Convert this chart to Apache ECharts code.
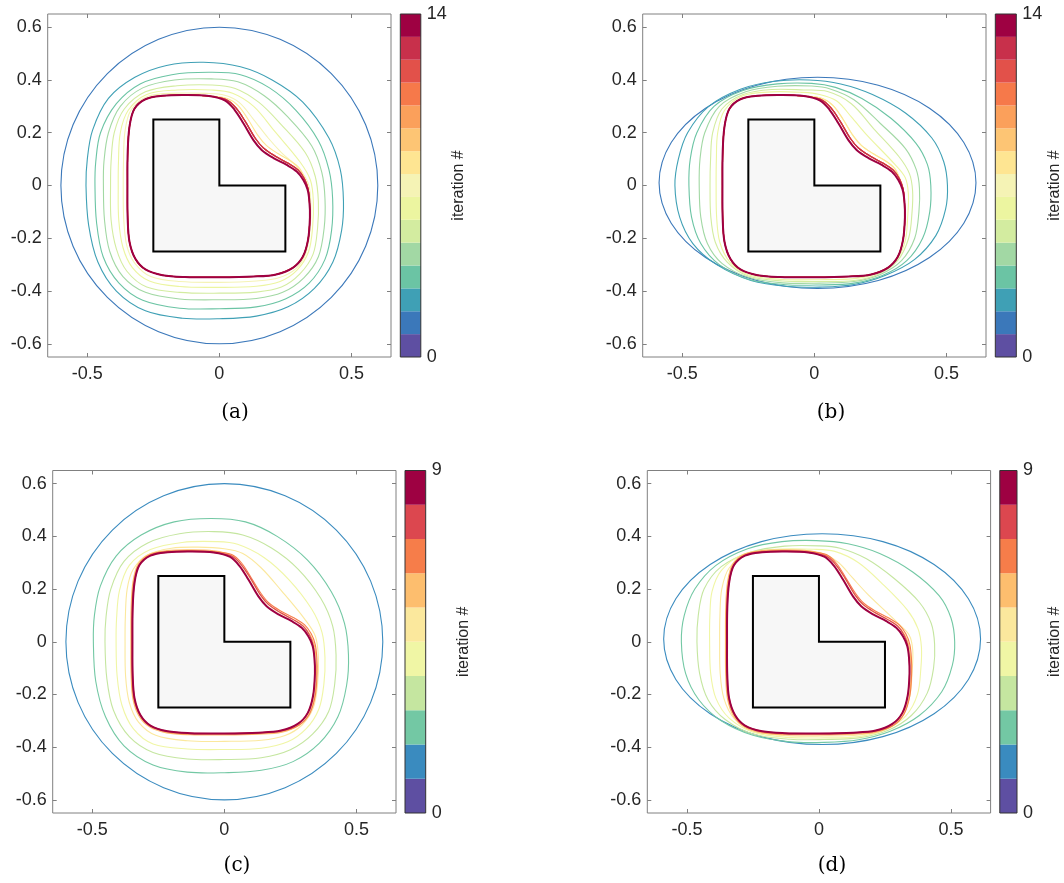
<!DOCTYPE html>
<html>
<head>
<meta charset="utf-8">
<script src="https://cdn.jsdelivr.net/npm/echarts@6/dist/echarts.min.js"></script>
<style>
  html, body { margin: 0; background: #fff; }
  #chart { width: 1064px; height: 883px; }
</style>
</head>
<body>
<div id="chart"></div>
<script>
// tick labels
const xTicks = [-0.5, 0, 0.5]
const yTicks = [-0.6, -0.4, -0.2, 0, 0.2, 0.4, 0.6]

// colorbars (iteration levels, bottom to top)
const levels15 = [0, 1, 2, 3, 4, 5, 6, 7, 8, 9, 10, 11, 12, 13, 14]
const colors15 = ['#5e4fa2', '#3b78ba', '#3fa0b5', '#6bc4a4', '#a2d8a4', '#d3eca0', '#ecf5a0', '#f5f3b5',
  '#fee592', '#fdc574', '#fba05b', '#f6794a', '#e2514a', '#c8304b', '#9e0142']
const levels10 = [0, 1, 2, 3, 4, 5, 6, 7, 8, 9]
const colors10 = ['#5e4fa2', '#3a8bbf', '#73c8a4', '#c5e6a0', '#f0f6a5', '#fbe89d', '#fdbe6e', '#f67d4a',
  '#dc474f', '#9e0142']

// obstacle
const lShape = [[-0.25, 0.25], [0, 0.25], [0, 0], [0.25, 0], [0.25, -0.25], [-0.25, -0.25]]

// initial curves
const circle0 = [[0.6, 0], [0.554, 0.23], [0.424, 0.424], [0.23, 0.554], [0, 0.6], [-0.23, 0.554], [-0.424, 0.424],
  [-0.554, 0.23], [-0.6, 0], [-0.554, -0.23], [-0.424, -0.424], [-0.23, -0.554], [0, -0.6], [0.23, -0.554],
  [0.424, -0.424], [0.554, -0.23]]
const ellipse0 = [[0.612, 0.01], [0.566, 0.163], [0.436, 0.293], [0.242, 0.38], [0.012, 0.41], [-0.218, 0.38],
  [-0.412, 0.293], [-0.542, 0.163], [-0.588, 0.01], [-0.542, -0.143], [-0.412, -0.273], [-0.218, -0.36],
  [0.012, -0.39], [0.242, -0.36], [0.436, -0.273], [0.566, -0.143]]

// final curve (and near-final iterates)
const finalCurve = [[-0.348, 0], [-0.347, -0.13], [-0.34, -0.215], [-0.318, -0.278], [-0.28, -0.318], [-0.215, -0.34],
  [-0.13, -0.347], [0, -0.348], [0.13, -0.345], [0.215, -0.337], [0.278, -0.312], [0.316, -0.27], [0.336, -0.205],
  [0.343, -0.12], [0.341, -0.06], [0.334, -0.015], [0.318, 0.021], [0.293, 0.053], [0.255, 0.078], [0.205, 0.104],
  [0.16, 0.135], [0.129, 0.172], [0.091, 0.236], [0.057, 0.288], [0.022, 0.322], [-0.04, 0.339], [-0.13, 0.343],
  [-0.215, 0.34], [-0.28, 0.327], [-0.322, 0.29], [-0.34, 0.225], [-0.347, 0.13]]
const near1 = [[-0.348, 0], [-0.347, -0.13], [-0.34, -0.215], [-0.318, -0.278], [-0.28, -0.318], [-0.215, -0.34],
  [-0.13, -0.347], [0, -0.348], [0.13, -0.345], [0.215, -0.337], [0.278, -0.312], [0.316, -0.27], [0.336, -0.205],
  [0.343, -0.12], [0.341, -0.06], [0.336, -0.012], [0.322, 0.03], [0.303, 0.066], [0.27, 0.093], [0.222, 0.121],
  [0.178, 0.152], [0.146, 0.19], [0.108, 0.252], [0.072, 0.302], [0.03, 0.33], [-0.04, 0.339], [-0.13, 0.343],
  [-0.215, 0.34], [-0.28, 0.327], [-0.322, 0.29], [-0.34, 0.225], [-0.347, 0.13]]
const near2 = [[-0.348, 0], [-0.347, -0.13], [-0.34, -0.215], [-0.318, -0.278], [-0.28, -0.318], [-0.215, -0.34],
  [-0.13, -0.347], [0, -0.348], [0.13, -0.345], [0.215, -0.337], [0.278, -0.312], [0.316, -0.27], [0.336, -0.205],
  [0.343, -0.12], [0.341, -0.06], [0.336, -0.012], [0.322, 0.026], [0.298, 0.059], [0.261, 0.084], [0.212, 0.111],
  [0.167, 0.142], [0.136, 0.179], [0.098, 0.243], [0.063, 0.294], [0.025, 0.326], [-0.04, 0.339], [-0.13, 0.343],
  [-0.215, 0.34], [-0.28, 0.327], [-0.322, 0.29], [-0.34, 0.225], [-0.347, 0.13]]
const orange1 = [[-0.354, 0], [-0.353, -0.13], [-0.346, -0.219], [-0.323, -0.283], [-0.284, -0.323], [-0.218, -0.346],
  [-0.13, -0.353], [0, -0.354], [0.13, -0.351], [0.218, -0.343], [0.283, -0.317], [0.321, -0.274], [0.342, -0.207],
  [0.349, -0.12], [0.347, -0.06], [0.34, -0.012], [0.324, 0.027], [0.299, 0.06], [0.26, 0.085], [0.21, 0.111],
  [0.166, 0.142], [0.135, 0.179], [0.097, 0.242], [0.062, 0.294], [0.026, 0.328], [-0.04, 0.345], [-0.13, 0.349],
  [-0.218, 0.346], [-0.284, 0.332], [-0.327, 0.294], [-0.346, 0.228], [-0.353, 0.13]]
const orange2 = [[-0.351, 0], [-0.35, -0.13], [-0.343, -0.217], [-0.32, -0.28], [-0.282, -0.32], [-0.216, -0.342],
  [-0.13, -0.35], [0, -0.351], [0.13, -0.348], [0.217, -0.34], [0.283, -0.316], [0.323, -0.273], [0.344, -0.206],
  [0.351, -0.12], [0.35, -0.06], [0.344, -0.01], [0.329, 0.03], [0.304, 0.064], [0.265, 0.09], [0.215, 0.116],
  [0.17, 0.146], [0.139, 0.183], [0.1, 0.246], [0.066, 0.298], [0.028, 0.331], [-0.04, 0.342], [-0.13, 0.346],
  [-0.215, 0.343], [-0.281, 0.33], [-0.324, 0.292], [-0.343, 0.226], [-0.35, 0.13]]

// panel (a) iterates
const a2 = [[-0.505, 0], [-0.495, -0.15], [-0.46, -0.29], [-0.39, -0.4], [-0.28, -0.475], [-0.14, -0.503], [0, -0.505],
  [0.14, -0.495], [0.26, -0.46], [0.36, -0.39], [0.43, -0.29], [0.463, -0.17], [0.47, -0.06], [0.458, 0.06],
  [0.415, 0.18], [0.316, 0.316], [0.2, 0.4], [0.08, 0.45], [-0.06, 0.467], [-0.2, 0.455], [-0.32, 0.41],
  [-0.42, 0.33], [-0.48, 0.21], [-0.5, 0.1]]
const a3 = [[-0.471, 0], [-0.465, -0.14], [-0.44, -0.27], [-0.38, -0.37], [-0.29, -0.435], [-0.15, -0.465], [0, -0.467],
  [0.14, -0.46], [0.25, -0.43], [0.34, -0.37], [0.4, -0.28], [0.425, -0.17], [0.429, -0.05], [0.415, 0.06],
  [0.375, 0.17], [0.29, 0.285], [0.19, 0.37], [0.08, 0.42], [-0.04, 0.429], [-0.18, 0.42], [-0.3, 0.385],
  [-0.39, 0.31], [-0.45, 0.2], [-0.468, 0.09]]
const a4 = [[-0.439, 0], [-0.435, -0.13], [-0.415, -0.25], [-0.365, -0.345], [-0.28, -0.405], [-0.15, -0.43], [0, -0.433],
  [0.14, -0.428], [0.24, -0.405], [0.32, -0.35], [0.375, -0.27], [0.397, -0.16], [0.4, -0.05], [0.388, 0.05],
  [0.35, 0.15], [0.262, 0.257], [0.17, 0.34], [0.07, 0.393], [-0.03, 0.404], [-0.17, 0.4], [-0.29, 0.37],
  [-0.375, 0.3], [-0.42, 0.2], [-0.437, 0.09]]
const a5 = [[-0.412, 0], [-0.41, -0.13], [-0.39, -0.24], [-0.35, -0.325], [-0.275, -0.385], [-0.15, -0.405], [0, -0.408],
  [0.14, -0.404], [0.235, -0.385], [0.305, -0.335], [0.355, -0.26], [0.372, -0.16], [0.375, -0.06], [0.363, 0.035],
  [0.325, 0.125], [0.235, 0.23], [0.15, 0.315], [0.06, 0.368], [-0.03, 0.381], [-0.16, 0.378], [-0.28, 0.355],
  [-0.36, 0.29], [-0.398, 0.2], [-0.41, 0.09]]
const a6 = [[-0.383, 0], [-0.381, -0.13], [-0.365, -0.235], [-0.33, -0.31], [-0.265, -0.362], [-0.15, -0.383], [0, -0.386],
  [0.14, -0.382], [0.23, -0.364], [0.295, -0.32], [0.338, -0.25], [0.353, -0.16], [0.356, -0.06], [0.345, 0.02],
  [0.305, 0.09], [0.21, 0.205], [0.13, 0.3], [0.05, 0.35], [-0.03, 0.362], [-0.16, 0.362], [-0.275, 0.345],
  [-0.345, 0.285], [-0.375, 0.2], [-0.382, 0.09]]
const a7 = [[-0.364, 0], [-0.362, -0.13], [-0.35, -0.23], [-0.32, -0.295], [-0.26, -0.345], [-0.15, -0.364], [0, -0.367],
  [0.14, -0.362], [0.225, -0.35], [0.29, -0.315], [0.328, -0.255], [0.344, -0.16], [0.346, -0.06], [0.336, 0.01],
  [0.3, 0.065], [0.235, 0.125], [0.185, 0.18], [0.13, 0.25], [0.075, 0.315], [0.02, 0.342], [-0.05, 0.349],
  [-0.16, 0.35], [-0.27, 0.338], [-0.335, 0.285], [-0.358, 0.2], [-0.363, 0.09]]

// panel (b) iterates
const b2 = [[-0.528, 0], [-0.51, -0.12], [-0.46, -0.22], [-0.37, -0.3], [-0.24, -0.36], [-0.1, -0.383], [0.02, -0.385],
  [0.15, -0.375], [0.27, -0.34], [0.38, -0.28], [0.46, -0.19], [0.497, -0.09], [0.504, 0], [0.49, 0.09],
  [0.445, 0.18], [0.345, 0.275], [0.22, 0.345], [0.1, 0.385], [-0.02, 0.4], [-0.15, 0.395], [-0.28, 0.365],
  [-0.4, 0.3], [-0.48, 0.2], [-0.515, 0.1]]
const b3 = [[-0.475, 0], [-0.465, -0.12], [-0.43, -0.22], [-0.36, -0.3], [-0.25, -0.355], [-0.11, -0.376], [0.02, -0.377],
  [0.15, -0.37], [0.26, -0.34], [0.35, -0.285], [0.41, -0.2], [0.437, -0.1], [0.441, 0], [0.428, 0.08],
  [0.385, 0.16], [0.29, 0.255], [0.18, 0.33], [0.08, 0.372], [-0.01, 0.387], [-0.14, 0.385], [-0.27, 0.36],
  [-0.38, 0.3], [-0.445, 0.2], [-0.47, 0.1]]
const b4 = [[-0.436, 0], [-0.43, -0.12], [-0.405, -0.22], [-0.35, -0.295], [-0.25, -0.348], [-0.12, -0.369], [0.02, -0.37],
  [0.15, -0.364], [0.25, -0.337], [0.33, -0.285], [0.38, -0.2], [0.396, -0.1], [0.398, -0.01], [0.386, 0.06],
  [0.345, 0.14], [0.25, 0.235], [0.15, 0.325], [0.06, 0.366], [-0.01, 0.377], [-0.14, 0.376], [-0.26, 0.355],
  [-0.36, 0.3], [-0.415, 0.2], [-0.433, 0.1]]
const b5 = [[-0.395, 0], [-0.392, -0.12], [-0.375, -0.215], [-0.33, -0.29], [-0.25, -0.343], [-0.12, -0.362], [0.02, -0.364],
  [0.15, -0.36], [0.245, -0.335], [0.315, -0.285], [0.357, -0.2], [0.37, -0.1], [0.372, -0.02], [0.36, 0.045],
  [0.32, 0.11], [0.225, 0.215], [0.14, 0.31], [0.05, 0.356], [-0.04, 0.362], [-0.16, 0.364], [-0.27, 0.345],
  [-0.35, 0.29], [-0.385, 0.2], [-0.393, 0.1]]
const b6 = [[-0.372, 0], [-0.37, -0.12], [-0.358, -0.215], [-0.32, -0.29], [-0.25, -0.338], [-0.12, -0.356], [0.02, -0.357],
  [0.15, -0.353], [0.24, -0.333], [0.305, -0.29], [0.343, -0.215], [0.354, -0.11], [0.356, -0.03], [0.344, 0.03],
  [0.305, 0.08], [0.2, 0.19], [0.14, 0.26], [0.085, 0.32], [0.02, 0.345], [-0.05, 0.353], [-0.16, 0.355],
  [-0.27, 0.34], [-0.34, 0.285], [-0.366, 0.2], [-0.371, 0.1]]

// panel (c) iterates
const c2 = [[-0.496, 0], [-0.487, -0.15], [-0.45, -0.285], [-0.38, -0.395], [-0.27, -0.468], [-0.14, -0.495], [0, -0.497],
  [0.14, -0.488], [0.26, -0.455], [0.36, -0.385], [0.43, -0.285], [0.463, -0.165], [0.47, -0.05], [0.455, 0.07],
  [0.405, 0.19], [0.315, 0.31], [0.2, 0.4], [0.08, 0.455], [-0.05, 0.468], [-0.19, 0.455], [-0.315, 0.405],
  [-0.41, 0.325], [-0.47, 0.21], [-0.492, 0.1]]
const c3 = [[-0.452, 0], [-0.445, -0.14], [-0.42, -0.26], [-0.36, -0.36], [-0.27, -0.42], [-0.14, -0.445], [0, -0.447],
  [0.14, -0.44], [0.25, -0.41], [0.335, -0.35], [0.395, -0.265], [0.418, -0.16], [0.423, -0.05], [0.41, 0.06],
  [0.365, 0.165], [0.28, 0.275], [0.18, 0.355], [0.07, 0.405], [-0.04, 0.418], [-0.17, 0.41], [-0.29, 0.375],
  [-0.38, 0.305], [-0.43, 0.2], [-0.448, 0.095]]
const c4 = [[-0.41, 0], [-0.406, -0.13], [-0.388, -0.24], [-0.345, -0.33], [-0.27, -0.388], [-0.14, -0.407], [0, -0.409],
  [0.14, -0.404], [0.24, -0.38], [0.31, -0.33], [0.358, -0.255], [0.377, -0.16], [0.381, -0.06], [0.37, 0.035],
  [0.33, 0.125], [0.245, 0.235], [0.15, 0.32], [0.05, 0.37], [-0.03, 0.38], [-0.16, 0.377], [-0.28, 0.35],
  [-0.36, 0.29], [-0.397, 0.195], [-0.408, 0.09]]
const c5 = [[-0.376, 0], [-0.374, -0.13], [-0.36, -0.23], [-0.325, -0.305], [-0.26, -0.355], [-0.14, -0.376], [0, -0.378],
  [0.14, -0.374], [0.23, -0.356], [0.295, -0.315], [0.337, -0.25], [0.353, -0.16], [0.356, -0.06], [0.345, 0.02],
  [0.305, 0.085], [0.215, 0.195], [0.14, 0.28], [0.07, 0.335], [0, 0.353], [-0.1, 0.359], [-0.2, 0.355],
  [-0.29, 0.33], [-0.345, 0.275], [-0.368, 0.2], [-0.375, 0.09]]

// panel (d) iterates
const d2 = [[-0.521, 0], [-0.505, -0.12], [-0.455, -0.22], [-0.37, -0.3], [-0.25, -0.355], [-0.11, -0.38], [0.02, -0.382],
  [0.15, -0.372], [0.27, -0.34], [0.38, -0.28], [0.465, -0.19], [0.505, -0.09], [0.514, 0], [0.5, 0.09],
  [0.455, 0.175], [0.355, 0.265], [0.23, 0.335], [0.11, 0.372], [-0.01, 0.384], [-0.14, 0.38], [-0.27, 0.353],
  [-0.39, 0.29], [-0.47, 0.2], [-0.51, 0.1]]
const d3 = [[-0.462, 0], [-0.452, -0.12], [-0.42, -0.22], [-0.355, -0.295], [-0.25, -0.35], [-0.11, -0.37], [0.02, -0.371],
  [0.15, -0.365], [0.26, -0.337], [0.35, -0.28], [0.41, -0.195], [0.434, -0.1], [0.438, -0.01], [0.425, 0.07],
  [0.38, 0.15], [0.285, 0.24], [0.18, 0.315], [0.08, 0.355], [0, 0.364], [-0.13, 0.363], [-0.26, 0.34],
  [-0.37, 0.285], [-0.435, 0.2], [-0.457, 0.1]]
const d4 = [[-0.414, 0], [-0.41, -0.12], [-0.39, -0.215], [-0.34, -0.29], [-0.25, -0.343], [-0.12, -0.363], [0.02, -0.365],
  [0.15, -0.36], [0.25, -0.335], [0.33, -0.28], [0.373, -0.2], [0.386, -0.1], [0.388, -0.02], [0.375, 0.05],
  [0.335, 0.12], [0.24, 0.22], [0.15, 0.3], [0.06, 0.343], [-0.02, 0.351], [-0.18, 0.35], [-0.29, 0.33],
  [-0.37, 0.27], [-0.405, 0.19], [-0.413, 0.1]]
const d5 = [[-0.376, 0], [-0.374, -0.12], [-0.36, -0.215], [-0.322, -0.29], [-0.25, -0.338], [-0.12, -0.357], [0.02, -0.358],
  [0.15, -0.354], [0.24, -0.334], [0.303, -0.29], [0.342, -0.215], [0.353, -0.11], [0.355, -0.03], [0.342, 0.025],
  [0.3, 0.07], [0.185, 0.18], [0.125, 0.245], [0.075, 0.3], [0.02, 0.333], [-0.05, 0.345], [-0.16, 0.346],
  [-0.27, 0.333], [-0.34, 0.28], [-0.368, 0.2], [-0.375, 0.1]]

// curves per panel, iteration 1..N
const panels = [
  { label: '(a)', levels: levels15, colors: colors15,
    curves: [circle0, a2, a3, a4, a5, a6, a7, near1, near2, near2, near2, near2, near2, finalCurve] },
  { label: '(b)', levels: levels15, colors: colors15,
    curves: [ellipse0, b2, b3, b4, b5, b6, near1, near1, near2, near2, near2, near2, near2, finalCurve] },
  { label: '(c)', levels: levels10, colors: colors10,
    curves: [circle0, c2, c3, c4, c5, orange1, orange2, near2, finalCurve] },
  { label: '(d)', levels: levels10, colors: colors10,
    curves: [ellipse0, d2, d3, d4, d5, orange1, orange2, near2, finalCurve] }
]

// pixel layout: plot [left, top, width, height], colorbar [left, width], caption [x, y]
const layout = [
  { plot: [47.7, 14, 343.3, 343], bar: [400.3, 20.5], caption: [235, 413] },
  { plot: [642.7, 14, 343.3, 343], bar: [995.3, 21], caption: [831, 413] },
  { plot: [52.7, 470.5, 343.3, 342.5], bar: [405, 20.7], caption: [237, 866] },
  { plot: [647.3, 470.5, 343.3, 342.5], bar: [999.8, 20.8], caption: [832, 866] }
]

const font = '"Liberation Sans", Arial, Helvetica, sans-serif'
const frameColor = '#808080'
const textColor = '#262626'

const fmt = v => (v === 0 ? '0' : v.toFixed(1))

const grid = []
const xAxis = []
const yAxis = []
const series = []
const graphic = []

const polySeries = (pts, xi, yi, style) => ({
  type: 'custom',
  coordinateSystem: 'cartesian2d',
  xAxisIndex: xi,
  yAxisIndex: yi,
  silent: true,
  data: pts,
  renderItem: (params, api) => {
    if (params.dataIndex !== 0) return
    return {
      type: 'polygon',
      shape: { points: pts.map(p => api.coord(p)), smooth: style.smooth || 0 },
      style: { fill: style.fill || 'none', stroke: style.stroke, lineWidth: style.width }
    }
  }
})

panels.forEach((p, i) => {
  const L = layout[i]
  const [left, top, width, height] = L.plot
  grid.push({ left, top, width, height, show: true, borderColor: frameColor, borderWidth: 1, backgroundColor: '#fff' })
  grid.push({ left: L.bar[0], top, width: L.bar[1], height, show: true, borderColor: '#333', borderWidth: 1,
    backgroundColor: 'rgba(0,0,0,0)', z: 10 })

  const tick = { show: true, inside: true, length: 4, lineStyle: { color: frameColor, width: 1 } }
  const noLine = { show: false, onZero: false }
  const gMain = 2 * i
  const gBar = 2 * i + 1

  // x axes: bottom, top, colorbar
  xAxis.push({ gridIndex: gMain, type: 'value', min: -0.65, max: 0.65, position: 'bottom',
    axisLine: noLine, splitLine: { show: false },
    axisTick: { ...tick, customValues: xTicks },
    axisLabel: { customValues: xTicks, formatter: fmt, margin: 8, fontSize: 18, fontFamily: font, color: textColor } })
  xAxis.push({ gridIndex: gMain, type: 'value', min: -0.65, max: 0.65, position: 'top',
    axisLine: noLine, splitLine: { show: false }, axisLabel: { show: false },
    axisTick: { ...tick, customValues: xTicks } })
  xAxis.push({ gridIndex: gBar, type: 'value', min: 0, max: 1, show: false })

  // y axes: left, right, colorbar category, colorbar labels
  yAxis.push({ gridIndex: gMain, type: 'value', min: -0.65, max: 0.65, position: 'left',
    axisLine: noLine, splitLine: { show: false },
    axisTick: { ...tick, customValues: yTicks },
    axisLabel: { customValues: yTicks, formatter: fmt, margin: 6, fontSize: 18, fontFamily: font, color: textColor } })
  yAxis.push({ gridIndex: gMain, type: 'value', min: -0.65, max: 0.65, position: 'right',
    axisLine: noLine, splitLine: { show: false }, axisLabel: { show: false },
    axisTick: { ...tick, customValues: yTicks } })
  yAxis.push({ gridIndex: gBar, type: 'category', data: p.levels, show: false })
  const maxLevel = p.levels[p.levels.length - 1]
  yAxis.push({ gridIndex: gBar, type: 'value', min: 0, max: maxLevel, position: 'right',
    axisLine: noLine, axisTick: { show: false }, splitLine: { show: false },
    axisLabel: { customValues: [0, maxLevel], margin: 6, fontSize: 18, fontFamily: font, color: textColor },
    name: 'iteration #', nameLocation: 'middle', nameRotate: 90, nameGap: 30,
    nameTextStyle: { fontSize: 16, fontFamily: font, color: textColor } })

  const xi = 3 * i
  const yi = 4 * i

  series.push(polySeries(lShape, xi, yi, { fill: '#f7f7f7', stroke: '#000', width: 2 }))
  p.curves.forEach((c, k) => {
    const last = k === p.curves.length - 1
    series.push(polySeries(c, xi, yi, { stroke: p.colors[k + 1], width: last ? 2 : 1.1, smooth: 0.34 }))
  })

  series.push({
    type: 'bar',
    xAxisIndex: 3 * i + 2,
    yAxisIndex: 4 * i + 2,
    barWidth: '100%',
    barCategoryGap: '0%',
    silent: true,
    data: p.levels.map((lv, k) => ({ value: 1, itemStyle: { color: p.colors[k] } }))
  })

  graphic.push({
    type: 'text',
    x: L.caption[0],
    y: L.caption[1],
    style: { text: p.label, font: '20px "DejaVu Serif", "Liberation Serif", serif', fill: '#000',
      textAlign: 'center', textVerticalAlign: 'middle' }
  })
})

const chart = echarts.init(document.getElementById('chart'))
chart.setOption({
  animation: false,
  backgroundColor: '#fff',
  grid,
  xAxis,
  yAxis,
  series,
  graphic
})

window.addEventListener('resize', () => chart.resize())
</script>
</body>
</html>
